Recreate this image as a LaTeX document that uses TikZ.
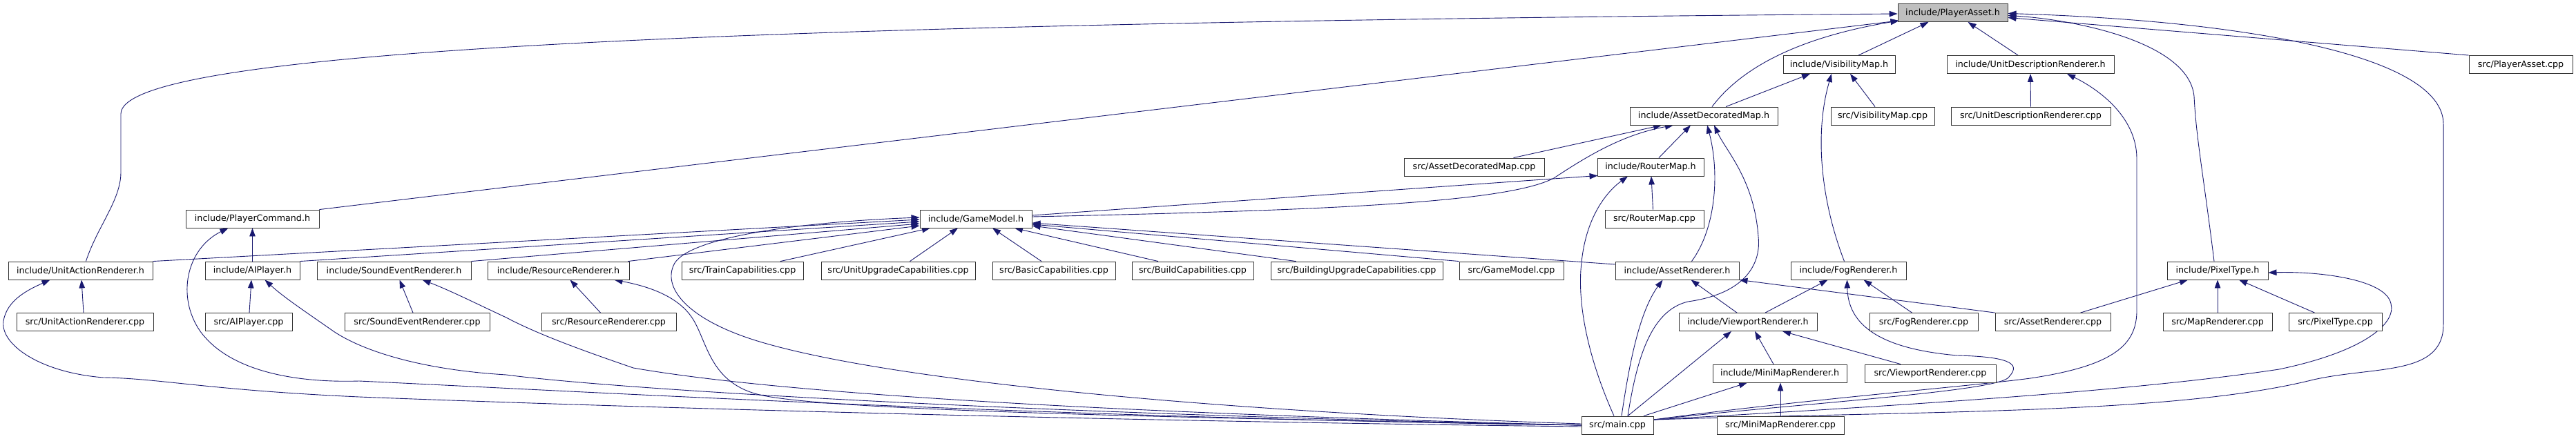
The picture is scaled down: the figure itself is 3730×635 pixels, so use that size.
\documentclass[tikz,border=0pt]{standalone}
\usepackage{fontspec}
\newfontfamily\dvs{DejaVu Sans}
\usetikzlibrary{arrows.meta,backgrounds}
\definecolor{edgec}{RGB}{25,25,112}
\begin{document}
\begin{tikzpicture}[x=1pt,y=-1pt,
 box/.style={draw=black!80,line width=0.9pt,fill=white,rectangle,minimum height=26pt,inner sep=0pt,font=\dvs\fontsize{12.7pt}{15pt}\selectfont},
 e/.style={draw=edgec,line width=0.9pt,-{Triangle[length=12pt,width=8.5pt]}}]
\useasboundingbox (0,0) rectangle (3730,635);
% row 1
\node[box,minimum width=159pt,fill=black!25] (pa) at (2827.5,18.5) {include/PlayerAsset.h};
% row 2
\node[box,minimum width=162pt] (vm) at (2663,93.5) {include/VisibilityMap.h};
\node[box,minimum width=242pt] (udr) at (2940,93.5) {include/UnitDescriptionRenderer.h};
\node[box,minimum width=150pt] (pacpp) at (3650,93.5) {src/PlayerAsset.cpp};
% row 3
\node[box,minimum width=214pt] (adm) at (2467,168) {include/AssetDecoratedMap.h};
\node[box,minimum width=150pt] (vmcpp) at (2726,168) {src/VisibilityMap.cpp};
\node[box,minimum width=231pt] (udrcpp) at (2940.5,168) {src/UnitDescriptionRenderer.cpp};
% row 4
\node[box,minimum width=203pt] (admcpp) at (2134.5,242) {src/AssetDecoratedMap.cpp};
\node[box,minimum width=154pt] (rm) at (2390,242) {include/RouterMap.h};
% row 5
\node[box,minimum width=193pt] (pc) at (365.5,317) {include/PlayerCommand.h};
\node[box,minimum width=162pt] (gm) at (1413,317) {include/GameModel.h};
\node[box,minimum width=143pt] (rmcpp) at (2395.5,317) {src/RouterMap.cpp};
% row 6
\node[box,minimum width=209pt] (uar) at (116.5,392) {include/UnitActionRenderer.h};
\node[box,minimum width=137pt] (aip) at (365.5,392) {include/AIPlayer.h};
\node[box,minimum width=223pt] (ser) at (570.5,392) {include/SoundEventRenderer.h};
\node[box,minimum width=205pt] (rr) at (808.5,392) {include/ResourceRenderer.h};
\node[box,minimum width=176pt] (train) at (1075,392) {src/TrainCapabilities.cpp};
\node[box,minimum width=223pt] (uup) at (1300.5,392) {src/UnitUpgradeCapabilities.cpp};
\node[box,minimum width=178pt] (basic) at (1526,392) {src/BasicCapabilities.cpp};
\node[box,minimum width=176pt] (build) at (1727,392) {src/BuildCapabilities.cpp};
\node[box,minimum width=249pt] (bup) at (1964.5,392) {src/BuildingUpgradeCapabilities.cpp};
\node[box,minimum width=151pt] (gmcpp) at (2188.5,392) {src/GameModel.cpp};
\node[box,minimum width=179pt] (ar) at (2428.5,392) {include/AssetRenderer.h};
\node[box,minimum width=167pt] (fr) at (2676.5,392) {include/FogRenderer.h};
\node[box,minimum width=146pt] (pt) at (3211,392) {include/PixelType.h};
% row 7
\node[box,minimum width=198pt] (uarcpp) at (123,466.5) {src/UnitActionRenderer.cpp};
\node[box,minimum width=126pt] (aipcpp) at (360,466.5) {src/AIPlayer.cpp};
\node[box,minimum width=210pt] (sercpp) at (604,466.5) {src/SoundEventRenderer.cpp};
\node[box,minimum width=195pt] (rrcpp) at (881.5,466.5) {src/ResourceRenderer.cpp};
\node[box,minimum width=200pt] (vr) at (2531,466.5) {include/ViewportRenderer.h};
\node[box,minimum width=157pt] (frcpp) at (2785.5,466.5) {src/FogRenderer.cpp};
\node[box,minimum width=167pt] (arcpp) at (2972.5,466.5) {src/AssetRenderer.cpp};
\node[box,minimum width=158pt] (mrcpp) at (3211,466.5) {src/MapRenderer.cpp};
\node[box,minimum width=135pt] (ptcpp) at (3381.5,466.5) {src/PixelType.cpp};
% row 8
\node[box,minimum width=194pt] (mmr) at (2577,541) {include/MiniMapRenderer.h};
\node[box,minimum width=190pt] (vrcpp) at (2795,541) {src/ViewportRenderer.cpp};
% row 9
\node[box,minimum width=104pt] (main) at (2342,616) {src/main.cpp};
\node[box,minimum width=184pt] (mmrcpp) at (2578,616) {src/MiniMapRenderer.cpp};

\begin{pgfonlayer}{background}
\fill[white] (0,0) rectangle (3730,635);
% to PlayerAsset.h
\draw[e] ([xshift=8pt]uar.north) .. controls (140,330) and (175,290) .. (175,250) -- (175,165) .. controls (175,80) and (900,35) .. ([yshift=-1.5pt]pa.west);
\draw[e] (pc.north east) -- ([xshift=2pt,yshift=2pt]pa.south west);
\draw[e] ([xshift=12pt]adm.north) .. controls (2520,100) and (2600,55) .. ([xshift=2pt,yshift=2pt]pa.south west);
\draw[e] ([xshift=28pt]vm.north) -- ([xshift=-35pt]pa.south);
\draw[e] ([xshift=-18pt]udr.north) -- ([xshift=22pt]pa.south);
\draw[e] (pacpp.north west) -- ([yshift=-7pt]pa.east);
\draw[e] ([xshift=-5pt]pt.north) .. controls (3190,250) and (3180,200) .. (3177,140) .. controls (3170,60) and (3000,28) .. ([yshift=-4pt]pa.east);
\draw[e] ([yshift=8pt]main.east) .. controls (2800,595) and (3150,600) .. (3350,550) .. controls (3440,530) and (3538,545) .. (3538,470) -- (3538,180) .. controls (3538,80) and (3250,30) .. ([yshift=-1pt]pa.east);
% to VisibilityMap.h
\draw[e] ([xshift=32pt]adm.north) -- ([xshift=-42pt]vm.south);
\draw[e] ([xshift=-6pt]fr.north) .. controls (2640,300) and (2625,200) .. ([xshift=-11pt]vm.south);
\draw[e] ([xshift=-11pt]vmcpp.north) -- ([xshift=16pt]vm.south);
% to UnitDescriptionRenderer.h
\draw[e] (udrcpp.north) -- (udr.south);
\draw[e] ([yshift=8pt]main.east) .. controls (2600,580) and (2850,560) .. (2940,548) .. controls (3060,530) and (3094,500) .. (3094,450) -- (3094,230) .. controls (3094,170) and (3040,130) .. ([xshift=53pt]udr.south);
% to AssetDecoratedMap.h
\draw[e] ([xshift=57pt]admcpp.north) -- ([xshift=-61pt]adm.south);
\draw[e] ([yshift=3pt]gm.east) .. controls (1900,305) and (2180,295) .. (2250,258) .. controls (2300,225) and (2350,195) .. ([xshift=-44pt]adm.south);
\draw[e] ([xshift=12pt]rm.north) -- ([xshift=-19pt]adm.south);
\draw[e] ([xshift=21pt]ar.north) .. controls (2485,330) and (2490,250) .. ([xshift=5pt]adm.south);
\draw[e] ([xshift=15pt]main.north) .. controls (2370,520) and (2390,450) .. (2444,437) .. controls (2530,425) and (2550,380) .. (2546,343) .. controls (2540,260) and (2500,220) .. ([xshift=15pt]adm.south);
% to RouterMap.h
\draw[e] ([yshift=5pt]gm.east) -- ([xshift=1pt,yshift=1pt]rm.south west);
\draw[e] ([xshift=-2pt]rmcpp.north) -- ([xshift=1pt]rm.south);
\draw[e] ([xshift=-5pt]main.north) .. controls (2300,520) and (2283,440) .. (2290,380) .. controls (2297,310) and (2330,275) .. ([xshift=-33pt]rm.south);
% to GameModel.h
\draw[e] (uar.north east) -- ([yshift=-1pt]gm.west);
\draw[e] (aip.north east) -- ([yshift=-4pt]gm.west);
\draw[e] (ser.north east) -- ([yshift=-7pt]gm.west);
\draw[e] ([xshift=-2pt]rr.north east) -- ([yshift=-10pt]gm.west);
\draw[e] ([xshift=55pt]train.north) -- ([xshift=-66pt]gm.south);
\draw[e] ([xshift=17pt]uup.north) -- ([xshift=-26pt]gm.south);
\draw[e] ([xshift=-18pt]basic.north) -- ([xshift=24pt]gm.south);
\draw[e] ([xshift=-50pt]build.north) -- ([xshift=56pt]gm.south);
\draw[e] ([xshift=-88pt]bup.north) -- ([yshift=-10pt]gm.east);
\draw[e] (gmcpp.north west) -- ([yshift=-8pt]gm.east);
\draw[e] ([yshift=9pt]ar.west) -- ([yshift=-6pt]gm.east);
\draw[e] ([yshift=2pt]main.west) .. controls (1800,598) and (1300,555) .. (1100,495) .. controls (1000,465) and (960,420) .. (975,385) .. controls (990,345) and (1150,322) .. ([yshift=2pt]gm.west);
% to PlayerCommand.h
\draw[e] (aip.north) -- (pc.south);
\draw[e] (main.west) .. controls (1500,605) and (800,565) .. (520,552) .. controls (420,555) and (330,535) .. (290,480) .. controls (255,430) and (270,360) .. ([xshift=-35pt]pc.south);
% to UnitActionRenderer.h
\draw[e] ([xshift=-2pt]uarcpp.north) -- ([xshift=1.5pt]uar.south);
\draw[e] ([yshift=-2pt]main.west) .. controls (1600,610) and (900,590) .. (520,575) .. controls (300,565) and (230,548) .. (150,547) .. controls (60,540) and (0,500) .. (5,465) .. controls (10,435) and (40,420) .. ([xshift=-44pt]uar.south);
% to AIPlayer.h
\draw[e] ([xshift=1pt]aipcpp.north) -- ([xshift=-1.5pt]aip.south);
\draw[e] (main.west) .. controls (1500,600) and (900,565) .. (733,543) .. controls (600,535) and (520,505) .. (483,480) .. controls (440,450) and (410,430) .. ([xshift=18pt]aip.south);
% to SoundEventRenderer.h
\draw[e] ([xshift=-6pt]sercpp.north) -- ([xshift=8pt]ser.south);
\draw[e] (main.west) .. controls (1500,595) and (1100,565) .. (917,533) .. controls (850,510) and (780,485) .. (733,460) .. controls (690,440) and (650,420) .. ([xshift=41pt]ser.south);
% to ResourceRenderer.h
\draw[e] ([xshift=-12pt]rrcpp.north) -- ([xshift=17pt]rr.south);
\draw[e] (main.west) .. controls (1700,605) and (1200,595) .. (1100,572) .. controls (1030,555) and (1025,500) .. (1005,465) .. controls (985,430) and (940,415) .. ([xshift=81pt]rr.south);
% to AssetRenderer.h
\draw[e] ([xshift=6pt]main.north) .. controls (2360,520) and (2375,450) .. ([xshift=-21pt]ar.south);
\draw[e] ([xshift=-16pt]vr.north) -- ([xshift=20pt]ar.south);
\draw[e] (arcpp.north west) -- (ar.south east);
% to FogRenderer.h
\draw[e] ([xshift=25pt]vr.north) -- ([xshift=-30pt]fr.south);
\draw[e] ([xshift=-17pt]frcpp.north) -- ([xshift=22pt]fr.south);
\draw[e] ([yshift=8pt]main.east) .. controls (2600,585) and (2880,568) .. (2907,548) .. controls (2925,530) and (2920,517) .. (2834,515) .. controls (2720,505) and (2676,470) .. ([xshift=-2pt]fr.south);
% to ViewportRenderer.h
\draw[e] ([xshift=15pt]main.north) -- ([xshift=-24pt]vr.south);
\draw[e] ([xshift=-9pt]mmr.north) -- ([xshift=10pt]vr.south);
\draw[e] ([xshift=-43pt]vrcpp.north) -- ([xshift=50pt]vr.south);
% to MiniMapRenderer.h
\draw[e] ([xshift=38pt]main.north) -- ([xshift=-47pt]mmr.south);
\draw[e] (mmrcpp.north) -- ([xshift=1pt]mmr.south);
% to PixelType.h
\draw[e] ([xshift=40pt]arcpp.north) -- ([xshift=-43pt]pt.south);
\draw[e] (mrcpp.north) -- (pt.south);
\draw[e] ([xshift=-30pt]ptcpp.north) -- ([xshift=31pt]pt.south);
\draw[e] ([yshift=8pt]main.east) .. controls (2800,585) and (3100,565) .. (3300,535) .. controls (3420,510) and (3470,470) .. (3462,440) .. controls (3455,405) and (3360,393) .. ([yshift=-3pt]pt.east);
\end{pgfonlayer}
\end{tikzpicture}
\end{document}
